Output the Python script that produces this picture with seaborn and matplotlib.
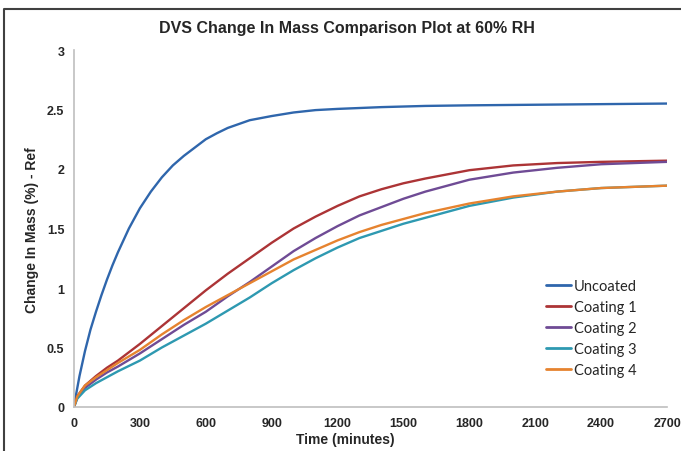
import pandas as pd
import matplotlib.pyplot as plt
from matplotlib.lines import Line2D
import seaborn as sns

# Time points (minutes)
uncoated_time = [0, 10, 25, 50, 75, 100, 125, 150, 175, 200, 250, 300, 350, 400, 450, 500,
                 550, 600, 650, 700, 800, 900, 1000, 1100, 1200, 1400, 1600, 1800, 2100, 2400, 2700]
coating_time = [0, 15, 50, 100, 150, 200, 300, 400, 500, 600, 700, 800, 900, 1000,
                1100, 1200, 1300, 1400, 1500, 1600, 1800, 2000, 2200, 2400, 2700]

# Change in mass (%) - Ref for each sample
uncoated = [0, 0.11, 0.26, 0.47, 0.65, 0.80, 0.94, 1.07, 1.19, 1.30, 1.50, 1.67, 1.81, 1.93,
            2.03, 2.11, 2.18, 2.25, 2.30, 2.345, 2.41, 2.445, 2.475, 2.495, 2.505, 2.52, 2.53,
            2.535, 2.54, 2.545, 2.55]
coating_1 = [0, 0.09, 0.18, 0.26, 0.33, 0.39, 0.53, 0.68, 0.83, 0.98, 1.12, 1.25, 1.38, 1.50,
             1.60, 1.69, 1.77, 1.83, 1.88, 1.92, 1.99, 2.03, 2.05, 2.06, 2.07]
coating_2 = [0, 0.08, 0.16, 0.23, 0.29, 0.34, 0.45, 0.57, 0.69, 0.80, 0.93, 1.05, 1.18, 1.31,
             1.42, 1.52, 1.61, 1.68, 1.75, 1.81, 1.91, 1.97, 2.01, 2.04, 2.06]
coating_3 = [0, 0.07, 0.14, 0.20, 0.25, 0.30, 0.39, 0.50, 0.60, 0.70, 0.81, 0.92, 1.04, 1.15,
             1.25, 1.34, 1.42, 1.48, 1.54, 1.59, 1.69, 1.76, 1.81, 1.84, 1.86]
coating_4 = [0, 0.09, 0.18, 0.25, 0.31, 0.37, 0.48, 0.61, 0.73, 0.84, 0.94, 1.04, 1.14, 1.24,
             1.32, 1.40, 1.47, 1.53, 1.58, 1.63, 1.71, 1.77, 1.81, 1.84, 1.86]

series_names = ['Uncoated', 'Coating 1', 'Coating 2', 'Coating 3', 'Coating 4']
series_times = [uncoated_time, coating_time, coating_time, coating_time, coating_time]
series_values = [uncoated, coating_1, coating_2, coating_3, coating_4]
colors = ['#2F66AC', '#AC3436', '#6F4B95', '#2E99B1', '#E6832F']

x_ticks = [0, 300, 600, 900, 1200, 1500, 1800, 2100, 2400, 2700]
y_ticks = [0, 0.5, 1, 1.5, 2, 2.5, 3]
y_tick_labels = ['0', '0.5', '1', '1.5', '2', '2.5', '3']

# long-form table for seaborn
df = pd.concat([pd.DataFrame({'Time': t, 'Mass': vals, 'Sample': name})
                for name, t, vals in zip(series_names, series_times, series_values)],
               ignore_index=True)

sns.set_style('white')
plt.rcParams['font.family'] = ['Liberation Sans', 'DejaVu Sans']

fig = plt.figure(figsize=(6.81, 4.52), dpi=100)
ax = fig.add_axes([74 / 681, 44 / 452, 593 / 681, 357 / 452])

sns.lineplot(data=df, x='Time', y='Mass', hue='Sample', hue_order=series_names,
             palette=colors, linewidth=1.7, ax=ax, legend=False, sort=False)

ax.set_xlim(0, 2700)
ax.set_ylim(0, 3)
ax.set_xticks(x_ticks)
ax.set_yticks(y_ticks)
ax.set_xticklabels([str(t) for t in x_ticks], fontsize=9, fontweight='bold')
ax.set_yticklabels(y_tick_labels, fontsize=9, fontweight='bold')
ax.tick_params(axis='both', direction='out', length=4, width=1, color='#BFBFBF', pad=3)
ax.set_xlabel('')
ax.set_ylabel('')
for side in ['top', 'right']:
    ax.spines[side].set_visible(False)
for side in ['left', 'bottom']:
    ax.spines[side].set_color('#BFBFBF')
    ax.spines[side].set_linewidth(1.2)

# legend
handles = [Line2D([0], [0], color=c, lw=2) for c in colors]
fig.legend(handles, series_names, loc='upper left', bbox_to_anchor=(540 / 681, 1 - 274 / 452),
           frameon=False, handlelength=1.7, handletextpad=0.2,
           labelspacing=0.48, borderaxespad=0, prop={'family': 'Lato', 'size': 10.5})

fig.text(347 / 681, 1 - 28 / 452, 'DVS Change In Mass Comparison Plot at 60% RH',
         ha='center', va='center', fontsize=11.5, fontweight='bold', color='#262626')
fig.text(345 / 681, 1 - 440 / 452, 'Time (minutes)', ha='center', va='center',
         fontsize=10, fontweight='bold')
fig.text(32 / 681, 1 - 230 / 452, 'Change In Mass (%) - Ref', ha='center', va='center',
         rotation=90, fontsize=10, fontweight='bold')

# frame of the cropped chart area
fig.add_artist(Line2D([3.5 / 681, 3.5 / 681, 1], [0, 1 - 10 / 452, 1 - 10 / 452],
                      color='#404040', lw=1.5, transform=fig.transFigure))

fig.savefig('out.png', dpi=100)
